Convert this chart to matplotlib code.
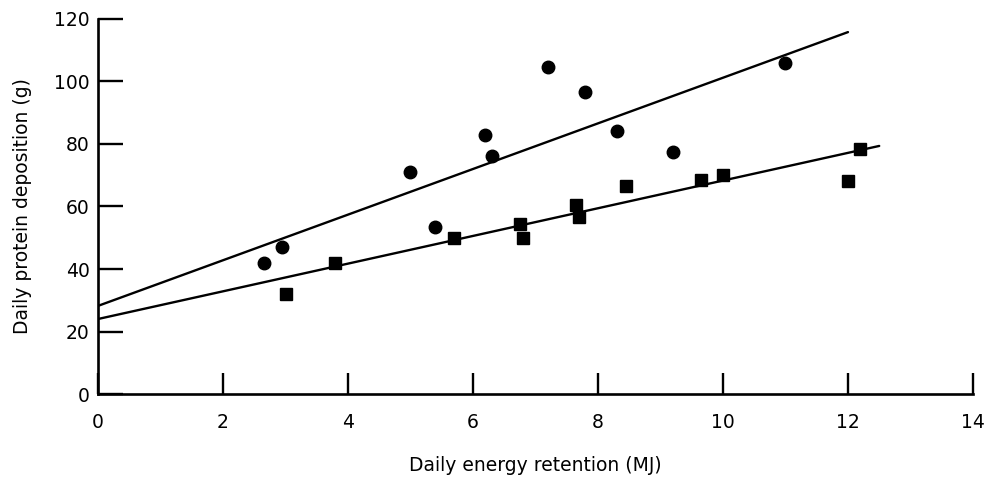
import matplotlib.pyplot as plt
import numpy as np

# circles (upper group)
circ_x = [2.65, 2.95, 5.0, 5.4, 6.2, 6.3, 7.2, 7.8, 8.3, 9.2, 11.0]
circ_y = [42, 47, 71, 53.5, 83, 76, 104.5, 96.5, 84, 77.5, 106]

# squares (lower group)
sq_x = [3.0, 3.8, 5.7, 6.75, 6.8, 7.65, 7.7, 8.45, 9.65, 10.0, 12.0, 12.2]
sq_y = [32, 42, 50, 54.5, 50, 60.5, 56.5, 66.5, 68.5, 70, 68, 78.5]

# regression lines: intercept, slope, end of line
line_a = [28.2, 7.3, 12.0]
line_b = [24.0, 4.43, 12.5]

fig = plt.figure(figsize=(9.91, 4.78), dpi=100)
ax = fig.add_axes([0.0989, 0.1757, 0.8829, 0.7846])

for a, b, xend in [line_a, line_b]:
    xx = np.array([0, xend])
    ax.plot(xx, a + b * xx, color="black", linewidth=1.7, solid_capstyle="round")

ax.plot(circ_x, circ_y, "o", color="black", markersize=9, clip_on=False)
ax.plot(sq_x, sq_y, "s", color="black", markersize=8.5, clip_on=False)

ax.set_xlim(0, 14)
ax.set_ylim(0, 120)
ax.set_xticks(range(0, 15, 2))
ax.set_yticks(range(0, 121, 20))

for s in ["top", "right"]:
    ax.spines[s].set_visible(False)
for s in ["left", "bottom"]:
    ax.spines[s].set_linewidth(1.9)

ax.tick_params(axis="y", direction="in", length=18, width=1.7, labelsize=13.5, pad=6)
ax.tick_params(axis="x", direction="in", length=15, width=1.7, labelsize=13.5, pad=14)

ax.set_xlabel("Daily energy retention (MJ)", fontsize=13.5, labelpad=17)
ax.set_ylabel("Daily protein deposition (g)", fontsize=13.5, labelpad=16)

plt.savefig("out.png", dpi=100)
